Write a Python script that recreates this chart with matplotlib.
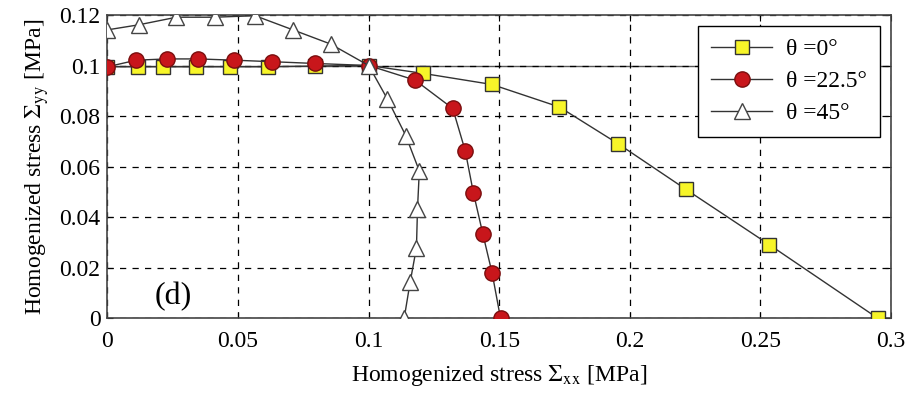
import matplotlib
matplotlib.use('Agg')
import matplotlib.pyplot as plt

plt.rcParams['font.family'] = ['Liberation Serif', 'DejaVu Serif']
plt.rcParams['mathtext.fontset'] = 'stix'

# theta = 0
sx0 = [0, 0.0115, 0.0213, 0.034, 0.047, 0.0615, 0.0796, 0.1, 0.1207, 0.1472, 0.173, 0.1956, 0.2215, 0.2533, 0.295]
sy0 = [0.0995, 0.0995, 0.0995, 0.0995, 0.0995, 0.0995, 0.0998, 0.1, 0.0969, 0.0925, 0.0836, 0.069, 0.051, 0.0292, 0.0]
# theta = 22.5
sx1 = [0, 0.011, 0.0226, 0.0347, 0.0486, 0.063, 0.0796, 0.1, 0.1178, 0.1322, 0.137, 0.1401, 0.1437, 0.1473, 0.1505]
sy1 = [0.0995, 0.1021, 0.1026, 0.1026, 0.1021, 0.1015, 0.1008, 0.1, 0.0942, 0.083, 0.0662, 0.0497, 0.0335, 0.0178, 0.0]
# theta = 45
sx2 = [0, 0.012, 0.0264, 0.0412, 0.0565, 0.071, 0.0854, 0.1, 0.1072, 0.1142, 0.1194, 0.1187, 0.1183, 0.1159, 0.1136]
sy2 = [0.1141, 0.1161, 0.1191, 0.1191, 0.1197, 0.1141, 0.1085, 0.1, 0.0867, 0.0723, 0.0583, 0.0432, 0.0279, 0.0144, 0.0]

labels = [u'\u03b8 =0\u00b0', u'\u03b8 =22.5\u00b0', u'\u03b8 =45\u00b0']
xticks = [0, 0.05, 0.1, 0.15, 0.2, 0.25, 0.3]
xticklabels = ['0', '0.05', '0.1', '0.15', '0.2', '0.25', '0.3']
yticks = [0, 0.02, 0.04, 0.06, 0.08, 0.1, 0.12]
yticklabels = ['0', '0.02', '0.04', '0.06', '0.08', '0.1', '0.12']

fig = plt.figure(figsize=(9.11, 3.93), dpi=100)
ax = fig.add_axes([0.118, 0.19, 0.86, 0.772])

ax.axhline(0.1, color='#555555', lw=1.0, zorder=1)

ax.plot(sx0, sy0, '-', color='#333333', lw=1, marker='s', ms=10,
        mfc='#f7f529', mec='#333333', mew=1, label=labels[0], zorder=3)
ax.plot(sx1, sy1, '-', color='#333333', lw=1, marker='o', ms=11,
        mfc='#c8161b', mec='#7a0e0e', mew=1, label=labels[1], zorder=4)
ax.plot(sx2, sy2, '-', color='#333333', lw=1, marker='^', ms=12,
        mfc='white', mec='#444444', mew=1, label=labels[2], zorder=5)

ax.set_xlim(0, 0.3)
ax.set_ylim(0, 0.12)
ax.set_xticks(xticks)
ax.set_xticklabels(xticklabels)
ax.set_yticks(yticks)
ax.set_yticklabels(yticklabels)
ax.tick_params(direction='in', length=4, labelsize=17, top=True, right=True)
ax.tick_params(axis='x', pad=9)
ax.tick_params(axis='y', pad=5)
ax.grid(True, color='black', linestyle=(0, (5, 5)), lw=0.9)
for s in ax.spines.values():
    s.set_color('#444444')
    s.set_linewidth(1.2)

ax.set_xlabel(r'Homogenized stress $\Sigma_{\rm xx}$ [MPa]', fontsize=17, labelpad=8)
ax.set_ylabel(r'Homogenized stress $\Sigma_{\rm yy}$ [MPa]', fontsize=17, labelpad=6)

ax.text(0.025, 0.0086, '(d)', fontsize=23, ha='center', va='center')

leg = ax.legend(loc='upper right', fontsize=17, frameon=True, fancybox=False,
                edgecolor='black', framealpha=1, handlelength=2.6,
                borderaxespad=0.45, labelspacing=0.45, borderpad=0.55,
                handletextpad=0.6)
leg.get_frame().set_linewidth(1.0)

fig.savefig('out.png', dpi=100)
